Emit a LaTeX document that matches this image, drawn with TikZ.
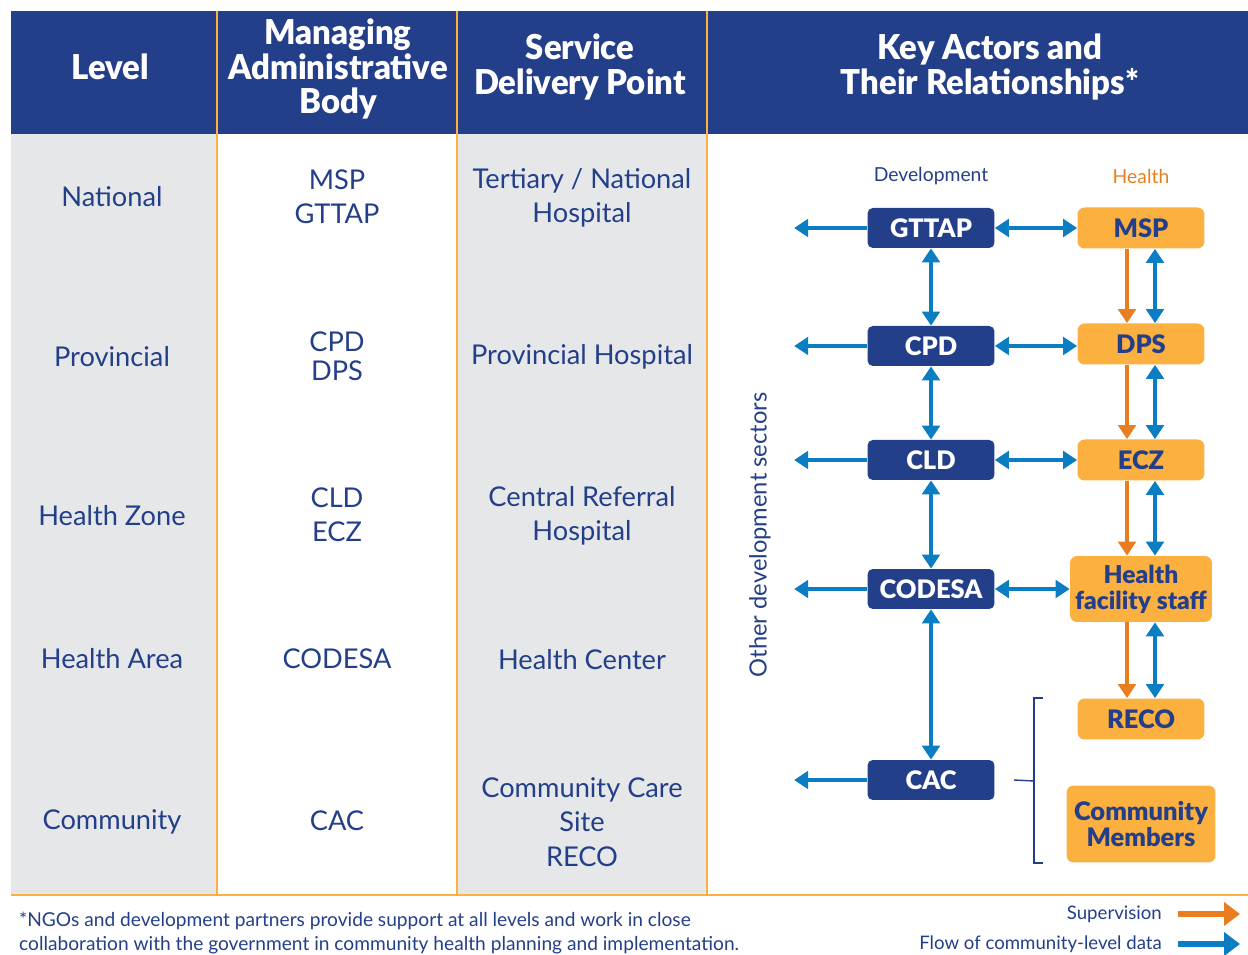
\documentclass[tikz,border=0pt]{standalone}
\usepackage{fontspec}
\setmainfont{Lato}
\newfontfamily\heavyfont{Lato Black}
\newfontfamily\headfont{Lato Black}[FakeStretch=0.96]
\usetikzlibrary{arrows.meta}

\definecolor{navy}{HTML}{243F8A}
\definecolor{boxorange}{HTML}{FBB040}
\definecolor{superv}{HTML}{E87E1F}
\definecolor{flow}{HTML}{0B7DC2}
\definecolor{colgray}{HTML}{E6E7E8}

\begin{document}
\begin{tikzpicture}[x=0.02cm, y=-0.02cm,
    every node/.style = {text=navy, align=center,
      font=\fontsize{15.5}{19.5}\selectfont},
    head/.style = {text=white, font=\headfont\fontsize{19.5}{19.8}\selectfont},
    devbox/.style = {shape=rectangle, rounded corners=3pt, fill=navy,
      text=white, minimum width=2.54cm, minimum height=0.8cm,
      font=\heavyfont\fontsize{14.5}{15}\selectfont},
    hbox/.style = {shape=rectangle, rounded corners=4pt, fill=boxorange,
      text=navy, minimum width=2.54cm, minimum height=0.82cm, inner sep=1pt,
      font=\heavyfont\fontsize{14.5}{15}\selectfont},
    data/.style = {draw=flow, line width=2pt, {Triangle[width=10pt,length=8pt]}-{Triangle[width=10pt,length=8pt]}},
    outward/.style = {draw=flow, line width=2pt, -{Triangle[width=10pt,length=8pt]}},
    super/.style = {draw=superv, line width=2pt, -{Triangle[width=10pt,length=8pt]}},
    small/.style = {font=\fontsize{10.9}{13.6}\selectfont}]

  \useasboundingbox (0,0) rectangle (1248,955);

  % table
  \fill[navy] (11,11) rectangle (1248,134);
  \fill[colgray] (11,134) rectangle (217,895);
  \fill[colgray] (457,134) rectangle (707,895);
  \foreach \x in {217,457,707}
    \draw[boxorange, line width=1.1pt] (\x,11) -- (\x,895);
  \draw[boxorange, line width=1.6pt] (11,895) -- (1248,895);

  \node[head] (hlevel) at (110,67) {Level};
  \node[head] (hbody) at (338,69) {Managing\\Administrative\\Body};
  \node[head] (hpoint) at (580,67) {Service\\Delivery Point};
  \node[head] (hactors) at (990,67) {Key Actors and\\Their Relationships*};

  \node (national) at (112,197) {National};
  \node (provincial) at (112,357) {Provincial};
  \node (zone) at (112,516) {Health Zone};
  \node (area) at (112,659) {Health Area};
  \node (community) at (112,822) {Community};

  \node (body1) at (337,197) {MSP\\GTTAP};
  \node[font=\fontsize{15.5}{16.5}\selectfont] (body2) at (337,356) {CPD\\DPS};
  \node (body3) at (337,515) {CLD\\ECZ};
  \node (body4) at (337,659) {CODESA};
  \node (body5) at (337,821) {CAC};

  \node (point1) at (582,198) {Tertiary / National\\Hospital};
  \node (point2) at (582,357) {Provincial Hospital};
  \node (point3) at (582,516) {Central Referral\\Hospital};
  \node (point4) at (582,660) {Health Center};
  \node (point5) at (582,822) {Community Care\\Site\\RECO};

  % key actors
  \node[font=\fontsize{11}{14}\selectfont] (devlab) at (931,176) {Development};
  \node[font=\fontsize{11}{14}\selectfont, text=superv] (hlthlab) at (1141,176) {Health};
  \node[rotate=90, font=\fontsize{13.5}{16}\selectfont] (others) at (760,535) {Other development sectors};

  \node[devbox] (gttap) at (931,228) {GTTAP};
  \node[devbox] (cpd) at (931,346) {CPD};
  \node[devbox] (cld) at (931,460) {CLD};
  \node[devbox] (codesa) at (931,589) {CODESA};
  \node[devbox] (cac) at (931,780) {CAC};

  \node[hbox] (msp) at (1141,228) {MSP};
  \node[hbox] (dps) at (1141,344) {DPS};
  \node[hbox] (ecz) at (1141,460) {ECZ};
  \node[hbox, minimum width=2.84cm, minimum height=1.32cm,
    font=\heavyfont\fontsize{14}{15}\selectfont] (staff) at (1141,589) {Health\\facility staff};
  \node[hbox] (reco) at (1141,719) {RECO};
  \node[hbox, minimum width=2.98cm, minimum height=1.54cm,
    font=\heavyfont\fontsize{14.5}{15}\selectfont] (members) at (1141,824) {Community\\Members};

  \foreach \n in {gttap,cpd,cld,codesa,cac}
    \draw[outward] (\n.west) -- ++(-73,0);

  \draw[data] (gttap) -- (msp);
  \draw[data] (cpd.east) -- (cpd.east -| dps.west);
  \draw[data] (cld) -- (ecz);
  \draw[data] (codesa) -- (staff);

  \draw[data] (gttap) -- (cpd);
  \draw[data] (cpd) -- (cld);
  \draw[data] (cld) -- (codesa);
  \draw[data] (codesa) -- (cac);

  \foreach \a/\b in {msp/dps,dps/ecz,ecz/staff,staff/reco} {
    \draw[super] ([xshift=-0.28cm]\a.south) -- ([xshift=-0.28cm]\b.north);
    \draw[data] ([xshift=0.28cm]\a.south) -- ([xshift=0.28cm]\b.north);
  }

  \coordinate (brkmid) at (1034,781);
  \draw[navy, line width=0.8pt] (1043,698) -- (1034,698) -- (1034,863) -- (1043,863);
  \draw[navy, line width=0.8pt] ([xshift=0.38cm]cac.east) -- (brkmid);

  % notes and legend
  \node[small, anchor=north west, align=left] (note) at (13,906)
    {*NGOs and development partners provide support at all levels and work in close\\
     collaboration with the government in community health planning and implementation.};
  \node[small, anchor=east, font=\fontsize{10.6}{13}\selectfont] (suplab) at (1168,914) {Supervision};
  \node[small, anchor=east, font=\fontsize{10.6}{13}\selectfont] (flowlab) at (1168,944) {Flow of community-level data};
  \draw[draw=superv, line width=3.2pt, -{Triangle[width=13pt,length=9pt]}]
    ([xshift=0.2cm]suplab.east) -- ++(62,0);
  \draw[draw=flow, line width=3.2pt, -{Triangle[width=13pt,length=9pt]}]
    ([xshift=0.2cm]flowlab.east) -- ++(62,0);
\end{tikzpicture}
\end{document}
